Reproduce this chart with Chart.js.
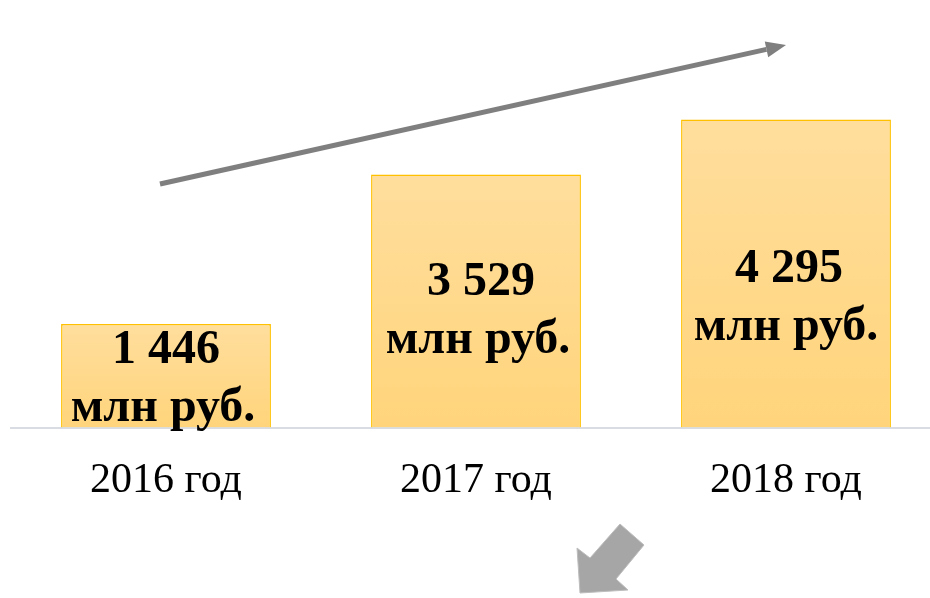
<!DOCTYPE html>
<html>
<head>
<meta charset="utf-8">
<script src="https://cdn.jsdelivr.net/npm/chart.js@4"></script>
<style>
  html, body { margin: 0; padding: 0; background: #fff; overflow: hidden; }
  #wrap { width: 950px; height: 598px; }
</style>
</head>
<body>
<div id="wrap"><canvas id="c"></canvas></div>
<script>
  // data
  const years = ['2016 год', '2017 год', '2018 год'];
  const revenue = [1446, 3529, 4295]; // млн руб.
  const valueLabels = ['1 446', '3 529', '4 295'];
  const unitLabel = 'млн руб.';

  // label placement tweaks (px, relative to bar middle)
  const labelShiftY = [0, 7, 21];
  const labelShiftX = [0, 5, 3];

  const SERIF = '"Liberation Serif", "Times New Roman", serif';

  function barGradient(ctx) {
    const chart = ctx.chart;
    const y = chart.scales.y;
    if (!chart.chartArea || !y || ctx.type !== 'data') return '#FFD98A';
    const top = y.getPixelForValue(ctx.raw);
    const bottom = y.getPixelForValue(0);
    const g = chart.ctx.createLinearGradient(0, top, 0, bottom);
    g.addColorStop(0, '#FFDE9D');
    g.addColorStop(1, '#FFD47B');
    return g;
  }

  const barText = {
    id: 'barText',
    afterDatasetsDraw(chart) {
      const c = chart.ctx;
      const meta = chart.getDatasetMeta(0);
      c.save();
      c.fillStyle = '#000';
      c.textAlign = 'center';
      c.textBaseline = 'alphabetic';
      c.font = 'bold 48px ' + SERIF;
      meta.data.forEach((bar, i) => {
        const mid = (bar.y + bar.base) / 2 + labelShiftY[i];
        const x = bar.x + labelShiftX[i];
        c.fillText(valueLabels[i], x, mid - 13);
        c.fillText(unitLabel, x - 3, mid + 45);
      });
      c.restore();
    }
  };

  // trend arrow + block arrow decorations
  const arrows = {
    id: 'arrows',
    afterDraw(chart) {
      const c = chart.ctx;
      c.save();
      // thin trend arrow
      const x1 = 160, y1 = 184, x2 = 786, y2 = 45;
      const ang = Math.atan2(y2 - y1, x2 - x1);
      const headLen = 20, headW = 8;
      const bx = x2 - headLen * Math.cos(ang), by = y2 - headLen * Math.sin(ang);
      c.strokeStyle = '#7F7F7F';
      c.lineWidth = 5;
      c.beginPath();
      c.moveTo(x1, y1);
      c.lineTo(bx, by);
      c.stroke();
      c.fillStyle = '#7F7F7F';
      c.beginPath();
      c.moveTo(x2, y2);
      c.lineTo(bx + headW * Math.sin(ang), by - headW * Math.cos(ang));
      c.lineTo(bx - headW * Math.sin(ang), by + headW * Math.cos(ang));
      c.closePath();
      c.fill();

      // block arrow pointing down-left
      c.fillStyle = '#A6A6A6';
      c.strokeStyle = '#BDBDBD';
      c.lineWidth = 1;
      c.beginPath();
      c.moveTo(620, 524);
      c.lineTo(644, 545);
      c.lineTo(616, 579);
      c.lineTo(628, 590);
      c.lineTo(580, 593);
      c.lineTo(577, 548);
      c.lineTo(590, 558);
      c.closePath();
      c.fill();
      c.stroke();
      c.restore();
    }
  };

  new Chart(document.getElementById('c'), {
    type: 'bar',
    data: {
      labels: years,
      datasets: [{
        data: revenue,
        backgroundColor: barGradient,
        borderColor: '#FFC000',
        borderWidth: 1.5,
        categoryPercentage: 1,
        barPercentage: 0.677,
      }]
    },
    options: {
      responsive: true,
      maintainAspectRatio: false,
      animation: false,
      layout: { padding: { left: 11, right: 9, top: 69, bottom: 64 } },
      plugins: { legend: { display: false }, tooltip: { enabled: false } },
      scales: {
        x: {
          grid: { display: false, drawTicks: false },
          border: { display: true, color: '#D9DDE3', width: 2 },
          ticks: {
            color: '#000',
            padding: 28,
            font: { family: SERIF, size: 42 },
          },
        },
        y: {
          display: false,
          min: 0,
          max: 5000,
        },
      },
    },
    plugins: [barText, arrows],
  });
</script>
</body>
</html>
